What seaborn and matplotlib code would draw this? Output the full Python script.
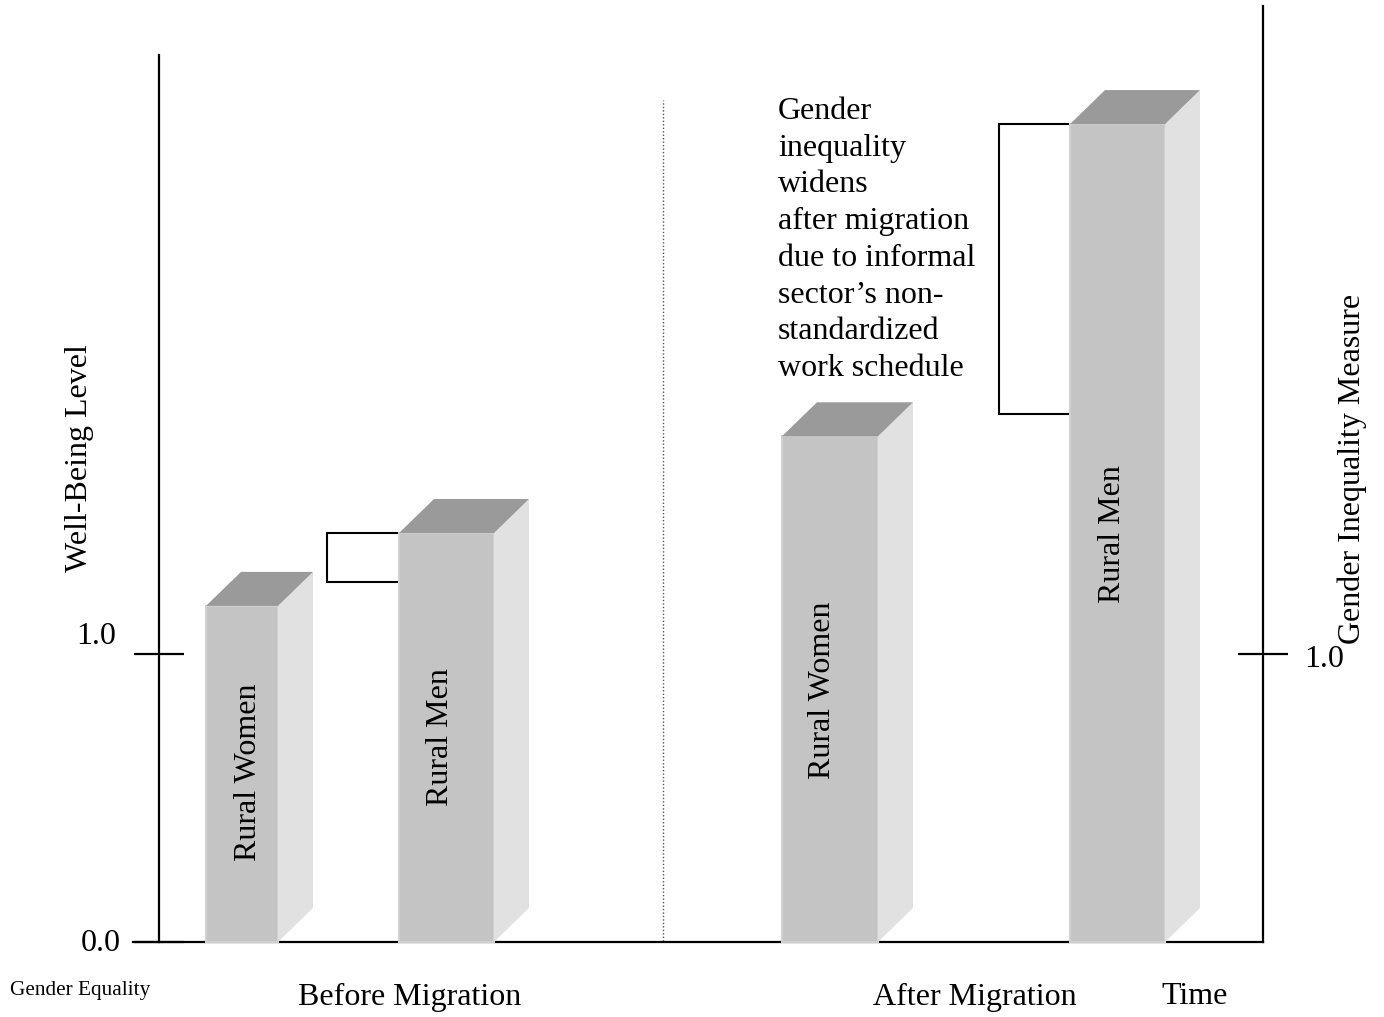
import matplotlib
matplotlib.use("Agg")
import matplotlib.pyplot as plt
from matplotlib.patches import Polygon
import seaborn as sns

# Well-being levels (axis units: 0.0 = baseline, 1.0 = reference tick)
groups = ["Before Migration", "After Migration"]
bar_labels = ["Rural Women", "Rural Men", "Rural Women", "Rural Men"]
bar_values = [1.167, 1.42, 1.756, 2.84]
# lower end of the inequality bracket drawn beside each "Rural Men" bar
gap_low = [1.25, 1.835]
y_ticks = [0.0, 1.0]
y_tick_labels = ["0.0", "1.0"]
right_ticks = [1.0]
right_tick_labels = ["1.0"]
note = ("Gender\ninequality\nwidens\nafter migration\ndue to informal\n"
        "sector\u2019s non-\nstandardized\nwork schedule")

sns.set_theme(style="white")
plt.rcParams["font.family"] = ["Liberation Serif", "DejaVu Serif"]
plt.rcParams["text.color"] = "black"

FS = 23

W, H = 1384, 1017
fig = plt.figure(figsize=(W / 100, H / 100), dpi=100)
ax = fig.add_axes([0, 0, 1, 1])
PX = 288.0          # pixels per axis unit
BASE = 942.0        # pixel row of the baseline
ax.set_xlim(0, W)
ax.set_ylim((BASE - H) / PX, BASE / PX)

# bar geometry (x in pixel columns)
bar_left = [206, 399, 782, 1070]
bar_width = [72, 95, 96, 95]
DX = 35
DY = 34 / PX

front = "#c4c4c4"
side = "#e1e1e1"
top = "#9a9a9a"

ax.bar(bar_left, bar_values, width=bar_width, align="edge", color=front,
       edgecolor="#d0d0d0", linewidth=1.5, zorder=3)
for x0, w, h in zip(bar_left, bar_width, bar_values):
    x1 = x0 + w
    ax.add_patch(Polygon([(x1, 0), (x1 + DX, DY), (x1 + DX, h + DY), (x1, h)],
                         closed=True, facecolor=side, edgecolor="none", zorder=3))
    ax.add_patch(Polygon([(x0, h), (x0 + DX, h + DY), (x1 + DX, h + DY), (x1, h)],
                         closed=True, facecolor=top, edgecolor="none", zorder=3))

# labels written up the front face of each bar
label_x = [248, 440, 822, 1112]
label_y = [0.59, 0.71, 0.875, 1.415]
for lx, ly, lab in zip(label_x, label_y, bar_labels):
    ax.text(lx, ly, lab, rotation=90, ha="center", va="center",
            fontsize=FS, zorder=4)

# inequality brackets
bracket_x = [327, 999]
for bx, x_bar, lo, hi in zip(bracket_x, [bar_left[1], bar_left[3]], gap_low,
                             [bar_values[1], bar_values[3]]):
    ax.plot([x_bar, bx, bx, x_bar], [hi, hi, lo, lo], color="black",
            lw=1.5, solid_joinstyle="miter", zorder=2)

# divider between the two periods
ax.vlines(663, 0.005, (BASE - 100) / PX, colors="#555555", linestyles=(0, (1, 1.5)),
          lw=1.0, zorder=1)

# axes frame
for s in ["top", "right"]:
    ax.spines[s].set_visible(False)
ax.spines["left"].set_position(("data", 159))
ax.spines["left"].set_bounds(0, (BASE - 55) / PX)
ax.spines["bottom"].set_position(("data", 0))
ax.spines["bottom"].set_bounds(133, 1263)
for s in ["left", "bottom"]:
    ax.spines[s].set_color("black")
    ax.spines[s].set_linewidth(1.6)
    ax.spines[s].set_zorder(2)
ax.set_xticks([])
ax.set_yticks(y_ticks)
ax.set_yticklabels([])
ax.tick_params(axis="y", direction="inout", length=36, width=1.6, color="black",
               left=True)

ax2 = ax.twinx()
ax2.set_ylim(ax.get_ylim())
for s in ["top", "left", "bottom"]:
    ax2.spines[s].set_visible(False)
ax2.spines["right"].set_position(("data", 1263))
ax2.spines["right"].set_bounds(0, (BASE - 6) / PX)
ax2.spines["right"].set_color("black")
ax2.spines["right"].set_linewidth(1.6)
ax2.set_yticks(right_ticks)
ax2.set_yticklabels([])
ax2.tick_params(axis="y", direction="inout", length=36, width=1.6, color="black",
                right=True)
ax2.patch.set_visible(False)

# tick values
ax.text(116, y_ticks[1] + 0.062, y_tick_labels[1], ha="right", va="center", fontsize=FS)
ax.text(121, y_ticks[0] - 0.005, y_tick_labels[0], ha="right", va="center", fontsize=FS)
ax.text(1304, right_ticks[0] - 0.02, right_tick_labels[0], ha="left", va="center",
        fontsize=FS)

# axis titles
ax.text(80, (BASE - 458) / PX, "Well-Being Level", rotation=90, ha="center",
        va="center", fontsize=FS)
ax.text(1352, (BASE - 469) / PX, "Gender Inequality Measure", rotation=90,
        ha="center", va="center", fontsize=FS)
ax.text(10, (BASE - 990) / PX, "Gender Equality", ha="left", va="center", fontsize=15.3)
ax.text(410, (BASE - 997) / PX, groups[0], ha="center", va="center", fontsize=FS)
ax.text(975, (BASE - 997) / PX, groups[1], ha="center", va="center", fontsize=FS)
ax.text(1195, (BASE - 997) / PX, "Time", ha="center", va="center", fontsize=FS)

# explanatory note
ax.text(778, (BASE - 97) / PX, note, ha="left", va="top", fontsize=FS,
        linespacing=1.35)

fig.savefig("out.png", dpi=100)
